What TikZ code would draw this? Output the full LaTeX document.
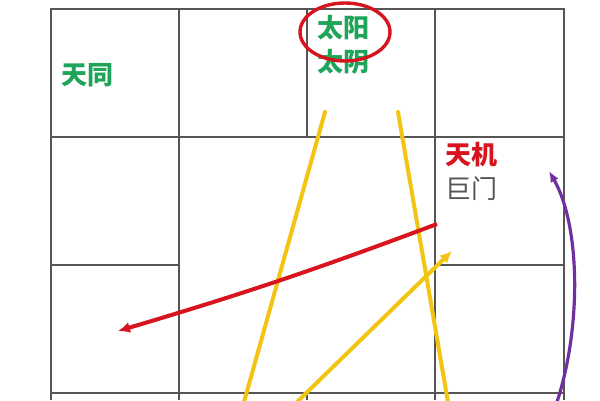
\documentclass[tikz,border=0pt]{standalone}
\usepackage{fontspec}
\newfontfamily\cjk{Noto Sans CJK SC}
\usetikzlibrary{arrows.meta}
\definecolor{gridgray}{HTML}{555555}
\definecolor{zgreen}{HTML}{1FA55A}
\definecolor{zred}{HTML}{D8141E}
\definecolor{zgold}{HTML}{F2C414}
\definecolor{zpurple}{HTML}{7030A0}
\definecolor{tgray}{HTML}{555555}
\tikzset{
  gridline/.style={draw=gridgray, line width=1.6pt},
  star/.style={font=\cjk\bfseries\fontsize{26}{28}\selectfont, inner sep=0pt},
  greenstar/.style={star, text=zgreen},
  redstar/.style={star, text=zred},
  graystar/.style={font=\cjk\fontsize{26}{28}\selectfont, inner sep=0pt, text=tgray},
  goldarrow/.style={draw=zgold, line width=4pt},
  tipgold/.style={-{Latex[length=12pt,width=11pt]}},
}
\begin{document}
\begin{tikzpicture}[x=1pt,y=-1pt]
\useasboundingbox (0,0) rectangle (600,400);
\fill[white] (0,0) rectangle (600,400);
% grid
\draw[gridline] (51,400) -- (51,9) -- (564,9) -- (564,400);
\draw[gridline] (51,137) -- (564,137);
\draw[gridline] (51,265) -- (179,265);
\draw[gridline] (435,265) -- (564,265);
\draw[gridline] (51,393) -- (564,393);
\draw[gridline] (179,9) -- (179,400);
\draw[gridline] (307,9) -- (307,137);
\draw[gridline] (307,393) -- (307,400);
\draw[gridline] (435,9) -- (435,400);
% labels
\node[greenstar] (tiantong) at (87,75) {天同};
\node[greenstar] (taiyang) at (343,28) {太阳};
\node[greenstar] (taiyin) at (343,62) {太阴};
\node[redstar] (tianji) at (471,155) {天机};
\node[graystar] (jumen) at (471,189) {巨门};
% red ellipse
\draw[zred, line width=3.4pt] (345,32) ellipse [x radius=45, y radius=29];
% connector coordinates
\coordinate (yL1) at (325,112);
\coordinate (yL2) at (244,402);
\coordinate (yR1) at (398,112);
\coordinate (yR2) at (448,402);
\coordinate (yD1) at (297,402);
\coordinate (yD2) at (452,251);
\coordinate (r1) at (437,224);
\coordinate (r2) at (118,331);
\coordinate (p1) at (557,402);
\coordinate (p2) at (549,171);
% yellow lines
\draw[goldarrow, line cap=round] (yL1) -- (yL2);
\draw[goldarrow, line cap=round] (yR1) -- (yR2);
\draw[goldarrow, tipgold] (yD1) -- (yD2);
% red arrow
\draw[zred, line width=4pt, -{Latex[length=12pt,width=11pt]}] (r1) to[bend left=2] (r2);
% purple arc
\draw[zpurple, line width=3.2pt, -{Latex[length=11pt,width=9pt]}] (p1) .. controls (582,325) and (580,225) .. (p2);
\end{tikzpicture}
\end{document}
